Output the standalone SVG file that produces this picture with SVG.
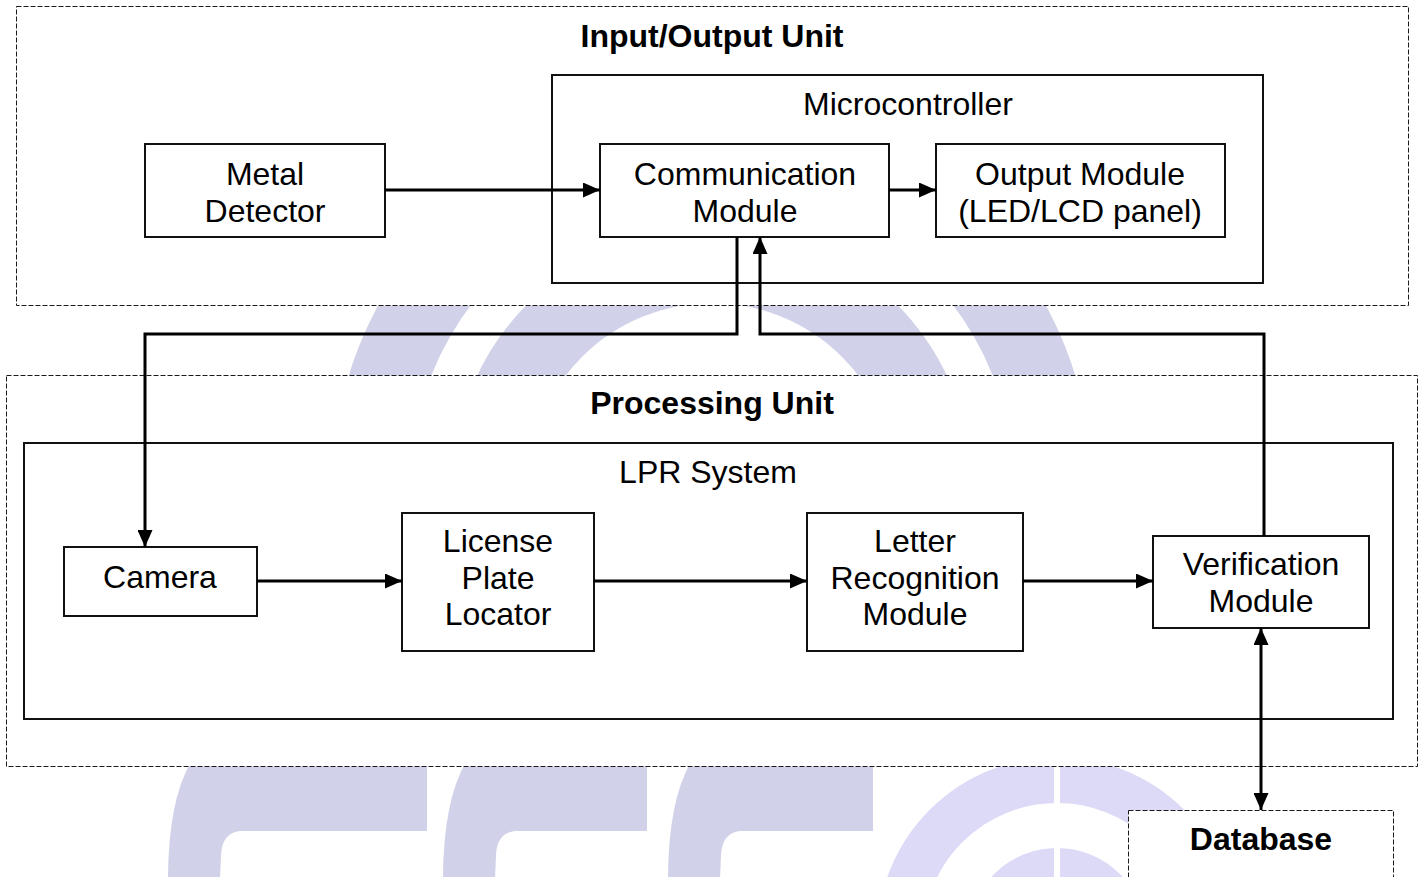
<svg xmlns="http://www.w3.org/2000/svg" width="1419" height="877" viewBox="0 0 1419 877">
<style>
.cont{fill:#fff;stroke:#1a1a1a;stroke-width:1;stroke-dasharray:5,2}
.box{fill:#fff;stroke:#111;stroke-width:2}
.t{font-family:"Liberation Sans",Arial,sans-serif;font-size:32px;fill:#000;text-anchor:middle}
.b{font-weight:bold}
.c{fill:none;stroke:#000;stroke-width:3}
.wm{fill:#d1d1e9}
.wr{fill:none;stroke:#dcdaf6}
</style>
<defs>
<clipPath id="band"><rect x="0" y="300" width="1419" height="80"/></clipPath>
<marker id="ah" markerUnits="userSpaceOnUse" markerWidth="17" markerHeight="15" refX="17" refY="7.5" orient="auto-start-reverse">
<path d="M0,0 L17,7.5 L0,15 Z" fill="#000"/>
</marker>
</defs>
<rect width="1419" height="877" fill="#fff"/>
<g id="watermark">
<g clip-path="url(#band)">
<circle cx="712" cy="487" r="341" fill="none" stroke="#d1d2e9" stroke-width="78"/>
<circle cx="712" cy="487" r="222" fill="none" stroke="#d1d2e9" stroke-width="76"/>
</g>
<path class="wm" d="M192,760 L427,760 L427,831 L240,831 Q222,833 221,855 L220,880 L168,880 Q168,800 192,760 Z"/>
<path class="wm" d="M467,760 L647,760 L647,831 L515,831 Q497,833 496,855 L495,880 L443,880 Q443,800 467,760 Z"/>
<path class="wm" d="M692,760 L873,760 L873,831 L740,831 Q722,833 721,855 L720,880 L668,880 Q668,800 692,760 Z"/>
<circle class="wr" cx="1057" cy="937" r="157" stroke-width="46"/>
<circle class="wr" cx="1057" cy="937" r="70" stroke-width="38"/>
<rect x="1054" y="740" width="6" height="140" fill="#fff"/>
</g>
<g id="io-unit">
<rect class="cont" x="16.5" y="6.5" width="1392" height="299"/>
<text class="t b" x="712" y="47">Input/Output Unit</text>
</g>
<g id="processing-unit">
<rect class="cont" x="6.5" y="375.5" width="1411" height="391"/>
<text class="t b" x="712" y="414">Processing Unit</text>
</g>
<g id="database">
<rect class="cont" x="1128.5" y="810.5" width="265" height="80"/>
<text class="t b" x="1261" y="850">Database</text>
</g>
<g id="microcontroller">
<rect class="box" x="552" y="75" width="711" height="208"/>
<text class="t" x="908" y="115">Microcontroller</text>
</g>
<g id="metal-detector">
<rect class="box" x="145" y="144" width="240" height="93"/>
<text class="t" x="265" y="185">Metal</text>
<text class="t" x="265" y="222">Detector</text>
</g>
<g id="communication-module">
<rect class="box" x="600" y="144" width="289" height="93"/>
<text class="t" x="745" y="185">Communication</text>
<text class="t" x="745" y="222">Module</text>
</g>
<g id="output-module">
<rect class="box" x="936" y="144" width="289" height="93"/>
<text class="t" x="1080" y="185">Output Module</text>
<text class="t" x="1080" y="222">(LED/LCD panel)</text>
</g>
<g id="lpr-system">
<rect class="box" x="24" y="443" width="1369" height="276"/>
<text class="t" x="708" y="483">LPR System</text>
</g>
<g id="camera">
<rect class="box" x="64" y="547" width="193" height="69"/>
<text class="t" x="160" y="588">Camera</text>
</g>
<g id="license-plate-locator">
<rect class="box" x="402" y="513" width="192" height="138"/>
<text class="t" x="498" y="552">License</text>
<text class="t" x="498" y="589">Plate</text>
<text class="t" x="498" y="625">Locator</text>
</g>
<g id="letter-recognition-module">
<rect class="box" x="807" y="513" width="216" height="138"/>
<text class="t" x="915" y="552">Letter</text>
<text class="t" x="915" y="589">Recognition</text>
<text class="t" x="915" y="625">Module</text>
</g>
<g id="verification-module">
<rect class="box" x="1153" y="536" width="216" height="92"/>
<text class="t" x="1261" y="575">Verification</text>
<text class="t" x="1261" y="612">Module</text>
</g>
<g id="connectors">
<path class="c" d="M385,190 H600" marker-end="url(#ah)"/>
<path class="c" d="M889,190 H936" marker-end="url(#ah)"/>
<path class="c" d="M737,237 V334 H145 V547" marker-end="url(#ah)"/>
<path class="c" d="M1264,536 V334 H760 V237" marker-end="url(#ah)"/>
<path class="c" d="M257,581 H402" marker-end="url(#ah)"/>
<path class="c" d="M594,581 H807" marker-end="url(#ah)"/>
<path class="c" d="M1023,581 H1153" marker-end="url(#ah)"/>
<path class="c" d="M1261,628 V810" marker-start="url(#ah)" marker-end="url(#ah)"/>
</g>
</svg>
